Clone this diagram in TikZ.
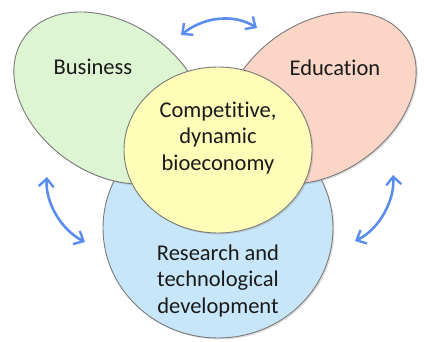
\documentclass[tikz,border=0pt]{standalone}
\usepackage{fontspec}
\setmainfont{Carlito}[Ligatures={NoCommon}]
\usetikzlibrary{arrows.meta,shadows,shapes.geometric}
\definecolor{bizgreen}{HTML}{DDF5D3}
\definecolor{edupink}{HTML}{FBD5C6}
\definecolor{resblue}{HTML}{C8E6FA}
\definecolor{coreyellow}{HTML}{FFFDB8}
\definecolor{edgegray}{HTML}{7A7A7A}
\definecolor{arrowblue}{HTML}{5B8DEF}
\definecolor{txt}{HTML}{1A1A1A}
\tikzset{
  blob/.style={draw=edgegray, line width=0.9pt,
    drop shadow={opacity=0.25, shadow xshift=1.5pt, shadow yshift=-1.5pt}},
  lbl/.style={text=txt, font=\fontsize{22.5}{26.5}\selectfont, align=center, inner sep=0pt},
  swap/.style={draw=arrowblue, line width=2.6pt, {Straight Barb[length=8pt,width=15pt,line width=2.4pt]}-{Straight Barb[length=8pt,width=15pt,line width=2.4pt]}}
}
\begin{document}
\begin{tikzpicture}[x=1pt,y=1pt]
\useasboundingbox (0,0) rectangle (424,341);
% research circle
\path[blob, fill=resblue] (218,113) ellipse [x radius=115pt, y radius=110pt];
% business and education ellipses
\path[blob, fill=bizgreen, rotate around={-35:(110,243)}] (110,243) ellipse [x radius=105pt, y radius=75pt];
\path[blob, fill=edupink, rotate around={35:(320,243)}] (320,243) ellipse [x radius=105pt, y radius=75pt];
% core
\path[blob, fill=coreyellow] (218,191) ellipse [x radius=94pt, y radius=83pt];
% labels
\node[lbl] (business) at (93,274) {Business};
\node[lbl] (education) at (335,273) {Education};
\node[lbl] (core) at (218,203) {Competitive,\\dynamic\\bioeconomy};
\node[lbl] (research) at (218,60) {Research and\\technological\\development};
% arrow ends
\coordinate (t1) at (181,306);
\coordinate (t2) at (257,313);
\coordinate (l1) at (47,164);
\coordinate (l2) at (85,99);
\coordinate (r1) at (393,166);
\coordinate (r2) at (355,100);
\draw[swap] (t1) .. controls (205,325) and (235,327) .. (t2);
\draw[swap] (l1) .. controls (45,140) and (60,112) .. (l2);
\draw[swap] (r1) .. controls (395,142) and (380,112) .. (r2);
\end{tikzpicture}
\end{document}
